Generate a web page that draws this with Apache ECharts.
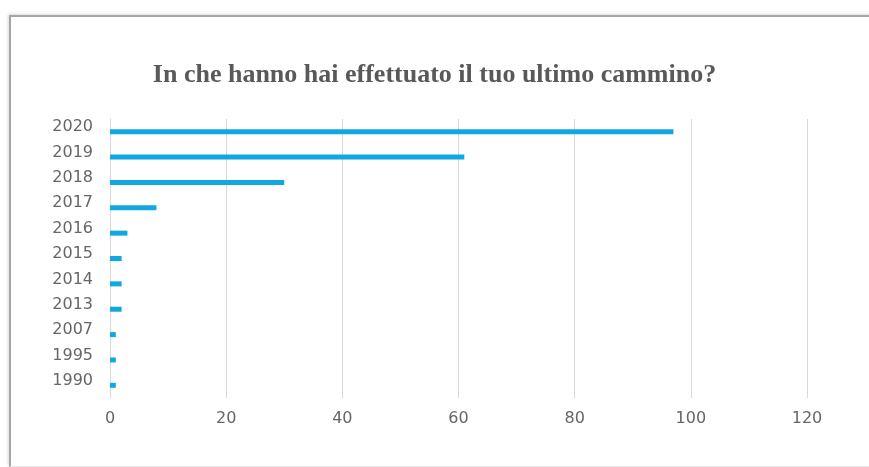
<!DOCTYPE html>
<html>
<head>
<meta charset="utf-8">
<script src="https://cdn.jsdelivr.net/npm/echarts@6/dist/echarts.min.js"></script>
<style>
  html, body { margin: 0; padding: 0; background: #ffffff; overflow: hidden; }
  #frame { position: absolute; left: 9px; top: 15px; width: 900px; height: 449px;
           border-top: 2px solid #a6a6a6; border-left: 2px solid #a6a6a6;
           border-bottom: 1px solid #e6e6e6;
           box-shadow: -1px -1px 3px rgba(0,0,0,0.15); }
  #chart { position: absolute; left: 0; top: 0; width: 869px; height: 467px; }
</style>
</head>
<body>
<div id="frame"></div>
<div id="chart"></div>
<script>
const titleText = 'In che hanno hai effettuato il tuo ultimo cammino?';
const categories = ['2020', '2019', '2018', '2017', '2016', '2015', '2014', '2013', '2007', '1995', '1990'];
const values = [97, 61, 30, 8, 3, 2, 2, 2, 1, 1, 1];
const xTicks = [0, 20, 40, 60, 80, 100, 120];

const chart = echarts.init(document.getElementById('chart'), null, { renderer: 'canvas' });
chart.setOption({
  backgroundColor: 'transparent',
  animation: false,
  title: {
    text: titleText,
    left: 'center',
    top: 57,
    textStyle: { fontFamily: 'Liberation Serif', fontWeight: 'bold', fontSize: 26, color: '#595959' }
  },
  grid: { left: 110, right: 62, top: 119, bottom: 69, containLabel: false },
  xAxis: {
    type: 'value',
    min: xTicks[0],
    max: xTicks[xTicks.length - 1],
    interval: 20,
    axisLine: { show: false },
    axisTick: { show: false },
    axisLabel: { margin: 13, color: '#666666', fontFamily: 'DejaVu Sans', fontSize: 16 },
    splitLine: { show: true, lineStyle: { color: '#d9d9d9', width: 1 } }
  },
  yAxis: {
    type: 'category',
    inverse: true,
    data: categories,
    axisLine: { show: true, lineStyle: { color: '#d9d9d9', width: 1 } },
    axisTick: { show: false },
    axisLabel: {
      margin: 17,
      formatter: '{a|{value}}',
      rich: {
        a: { color: '#666666', fontFamily: 'DejaVu Sans', fontSize: 16, padding: [0, 0, 9, 0] }
      }
    }
  },
  series: [{
    type: 'bar',
    data: values,
    barWidth: 5,
    itemStyle: { color: '#12a8df' }
  }]
});
</script>
</body>
</html>
